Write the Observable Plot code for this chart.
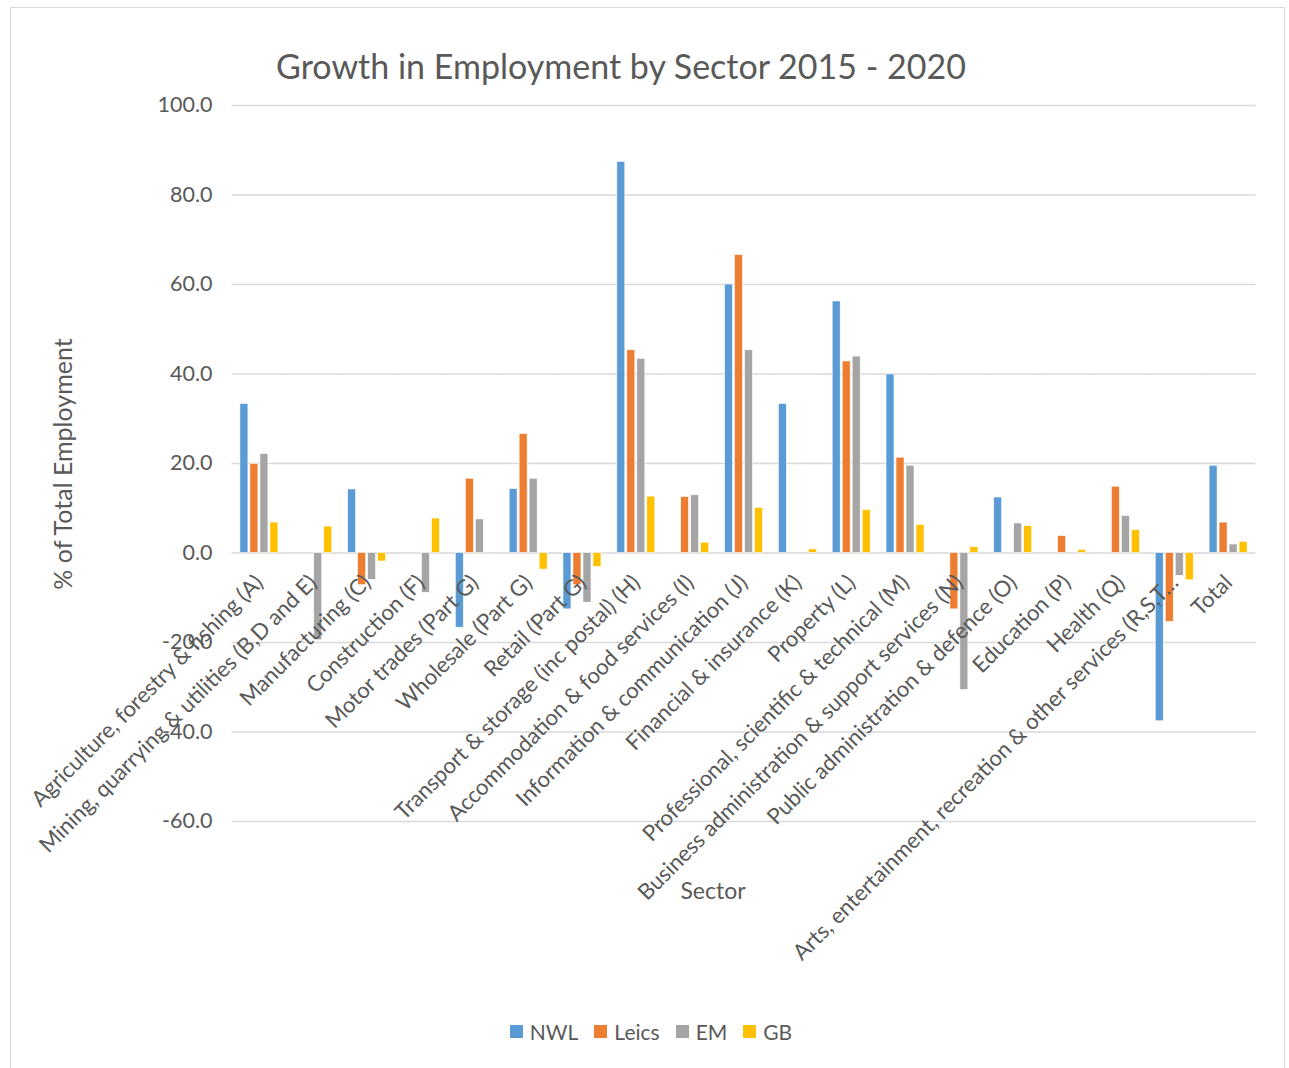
<!DOCTYPE html>
<html>
<head>
<meta charset="utf-8">
<script src="https://cdn.jsdelivr.net/npm/d3@7"></script>
<script src="https://cdn.jsdelivr.net/npm/@observablehq/plot@0.6"></script>
<style>
  html, body { margin: 0; padding: 0; background: #fff; }
  #wrap { position: relative; width: 1289px; height: 1068px; overflow: hidden; font-family: Lato, "Open Sans", sans-serif; color: #595959; }
  #frame { position: absolute; left: 10px; top: 7px; width: 1275px; height: 1070px; border: 1px solid #d9d9d9; box-sizing: border-box; }
  #chart { position: absolute; left: 0; top: 0; }
  #title { position: absolute; left: 0; width: 1242px; top: 45px; text-align: center; font-size: 34px; white-space: nowrap; }
  #ytitle { position: absolute; left: 62px; top: 464px; transform: translate(-50%, -50%) rotate(-90deg); font-size: 25px; white-space: nowrap; }
  #xtitle { position: absolute; left: 713px; top: 890px; transform: translate(-50%, -50%); font-size: 23px; white-space: nowrap; }
  #legend { position: absolute; left: 0; width: 1302px; top: 1019px; display: flex; justify-content: center; gap: 16px; font-size: 21px; }
  #legend span.item { display: inline-flex; align-items: center; gap: 7px; }
  #legend span.sw { display: inline-block; width: 13px; height: 13px; }
</style>
</head>
<body>
<div id="wrap">
  <div id="frame"></div>
  <div id="chart"></div>
  <div id="title">Growth in Employment by Sector 2015 - 2020</div>
  <div id="ytitle">% of Total Employment</div>
  <div id="xtitle">Sector</div>
  <div id="legend"></div>
</div>
<script>
const sectors = [
  "Agriculture, forestry & fishing (A)",
  "Mining, quarrying & utilities (B,D and E)",
  "Manufacturing (C)",
  "Construction (F)",
  "Motor trades (Part G)",
  "Wholesale (Part G)",
  "Retail (Part G)",
  "Transport & storage (inc postal) (H)",
  "Accommodation & food services (I)",
  "Information & communication (J)",
  "Financial & insurance (K)",
  "Property (L)",
  "Professional, scientific & technical (M)",
  "Business administration & support services (N)",
  "Public administration & defence (O)",
  "Education (P)",
  "Health (Q)",
  "Arts, entertainment, recreation & other services (R,S,T…",
  "Total"
];
const seriesNames = ["NWL", "Leics", "EM", "GB"];
const seriesColors = ["#5B9BD5", "#ED7D31", "#A5A5A5", "#FFC000"];

const nwl   = [33.3, null, 14.2, null, -16.7, 14.3, -12.6, 87.4, null, 60.0, 33.3, 56.2, 39.9, null, 12.4, null, null, -37.6, 19.5];
const leics = [19.9, null, -7.2, null, 16.6, 26.6, -7.2, 45.3, 12.5, 66.6, null, 42.8, 21.3, -12.6, null, 3.8, 14.8, -15.4, 6.8];
const em    = [22.1, -19.5, -6.0, -8.9, 7.5, 16.6, -11.1, 43.4, 12.9, 45.3, null, 43.9, 19.5, -30.6, 6.6, null, 8.3, -5.1, 1.9];
const gb    = [6.8, 5.9, -1.9, 7.7, null, -3.7, -3.1, 12.6, 2.3, 10.1, 0.8, 9.6, 6.3, 1.3, 6.0, 0.7, 5.1, -6.1, 2.5];
const yTicks = [-60, -40, -20, 0, 20, 40, 60, 80, 100];

const seriesValues = [nwl, leics, em, gb];
const rows = [];
sectors.forEach((s, i) => {
  seriesNames.forEach((n, j) => {
    const v = seriesValues[j][i];
    if (v !== null) rows.push({sector: s, series: n, value: v});
  });
});
// grid rows: one rule per tick in every facet (extended across the gaps)
const gridRows = [];
sectors.forEach(s => yTicks.forEach(t => gridRows.push({sector: s, tick: t})));

const W = 1289, H = 1068;
const fxPadIn = 0.294, fxPadOut = 0.147;
const step = (W - 232 - 34) / (sectors.length - fxPadIn + 2 * fxPadOut);
const gapHalf = step * fxPadIn / 2;

const chart = Plot.plot({
  width: W,
  height: H,
  marginLeft: 232,
  marginRight: 34,
  marginTop: 105,
  marginBottom: H - 821,
  style: {fontFamily: "Lato, 'Open Sans', sans-serif", fontSize: "20px", color: "#595959", background: "transparent"},
  fx: {domain: sectors, paddingInner: fxPadIn, paddingOuter: fxPadOut, round: false, axis: null, label: null},
  x: {domain: seriesNames, paddingInner: 0.2, paddingOuter: 0, round: false, axis: null, label: null},
  y: {domain: [-60, 100], axis: null, label: null},
  color: {domain: seriesNames, range: seriesColors},
  marks: [
    Plot.ruleY(gridRows, {fx: "sector", y: "tick", stroke: "#d9d9d9", strokeWidth: 1.5, insetLeft: -gapHalf - 0.5, insetRight: -gapHalf - 0.5}),
    Plot.text(yTicks, {fx: () => sectors[0], y: d => d, text: d => d.toFixed(1), frameAnchor: "left", textAnchor: "end", dx: -20 - gapHalf, fill: "#595959", fontSize: 21.5}),
    Plot.barY(rows, {fx: "sector", x: "series", y: "value", fill: "series", stroke: "white", strokeWidth: 0.6}),
    Plot.text(sectors, {fx: d => d, y: () => 0, text: d => d, rotate: -45, textAnchor: "end", dy: 26, dx: 0, fill: "#595959", fontSize: 22.1})
  ]
});
document.getElementById("chart").appendChild(chart);

const legend = document.getElementById("legend");
seriesNames.forEach((n, j) => {
  const item = document.createElement("span");
  item.className = "item";
  const sw = document.createElement("span");
  sw.className = "sw";
  sw.style.background = seriesColors[j];
  item.appendChild(sw);
  item.appendChild(document.createTextNode(n));
  legend.appendChild(item);
});
</script>
</body>
</html>
